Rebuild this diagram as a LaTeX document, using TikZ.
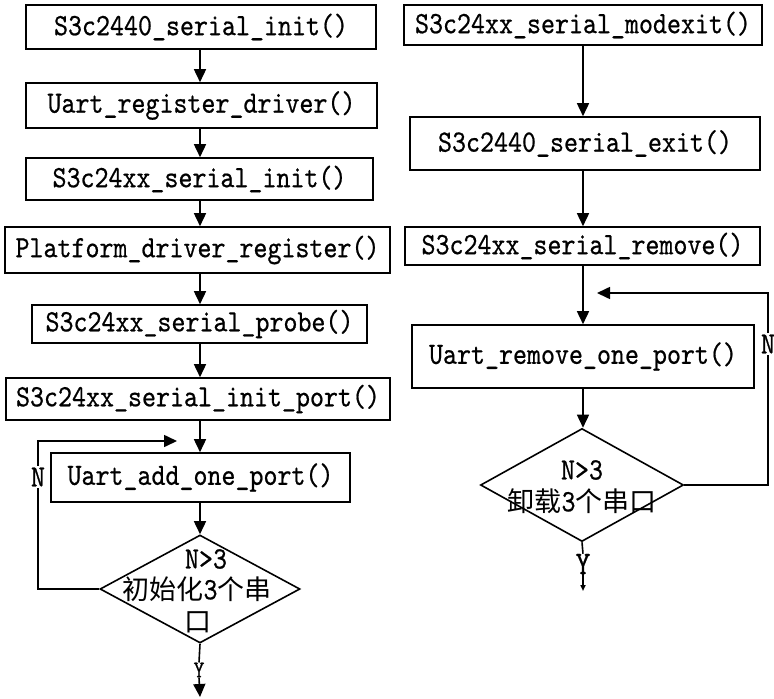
\documentclass[tikz,border=0pt]{standalone}
\usepackage{fontspec}
\setmonofont[FakeStretch=0.86,FakeBold=0.6]{lmmono10-regular.otf}
\newfontfamily\cjk{Noto Sans CJK SC}
\usetikzlibrary{arrows.meta,shapes.geometric}

\tikzset{
  box/.style={draw, line width=1.6pt, inner sep=0pt, font=\ttfamily\fontsize{31}{33}\selectfont},
  dia/.style={draw, diamond, line width=1.6pt, inner sep=0pt},
  lbl/.style={inner sep=0pt, font=\ttfamily\fontsize{31}{33}\selectfont},
  zh/.style={inner sep=0pt, font=\cjk\fontsize{27}{30}\selectfont},
  conn/.style={line width=1.6pt},
  arr/.style={conn, -{Triangle[length=13pt,width=12pt]}},
  arrsmall/.style={conn, -{Triangle[length=6pt,width=5pt]}},
}

\begin{document}
\begin{tikzpicture}[x=1pt,y=-1pt]
\useasboundingbox (0,0) rectangle (774,699);

% spine positions of the two columns
\coordinate (L) at (200,0);
\coordinate (R) at (583,0);

% ---- init sequence (left column) ----
\node[box, minimum width=350pt, minimum height=44pt] (B1) at (201,27)    {S3c2440\_serial\_init()};
\node[box, minimum width=351pt, minimum height=45pt] (B2) at (201.5,105.5) {Uart\_register\_driver()};
\node[box, minimum width=347pt, minimum height=42pt] (B3) at (199.5,179) {S3c24xx\_serial\_init()};
\node[box, minimum width=385pt, minimum height=46pt] (B4) at (197.5,250) {Platform\_driver\_register()};
\node[box, minimum width=335pt, minimum height=38pt] (B5) at (199.5,324) {S3c24xx\_serial\_probe()};
\node[box, minimum width=384pt, minimum height=42pt] (B6) at (198,399)   {S3c24xx\_serial\_init\_port()};
\node[box, minimum width=299pt, minimum height=49pt] (B7) at (200.5,477.5) {Uart\_add\_one\_port()};
\node[dia, minimum width=200pt, minimum height=108pt] (D1) at (200,589) {};
\node[lbl] (T1a) at (206,559) {N>3};
\node[zh]  (T1b) at (197,589) {初始化{\ttfamily\fontsize{31}{33}\selectfont 3}个串};
\node[zh]  (T1c) at (198,622) {口};
\node[inner sep=0pt, font=\ttfamily\fontsize{24}{26}\selectfont] (YL) at (199,670) {Y};
\coordinate (YLend) at (200,697);

\foreach \a/\b in {B1/B2,B2/B3,B3/B4,B4/B5,B5/B6,B6/B7,B7/D1}
  \draw[arr] (\a.south -| L) -- (\b.north -| L);
\draw[conn] (D1.south) -- (YL.north);
\draw[arr] (YL.south) -- (YLend);

% retry loop of the left column
\coordinate (LoopL) at (38,441);
\coordinate (LoopLend) at (177,441);
\draw[arr] (D1.west) -| (LoopL) -- (LoopLend);
\node[lbl, fill=white, inner ysep=2pt] (NL) at (38,477) {N};

% ---- exit sequence (right column) ----
\node[box, minimum width=358pt, minimum height=40pt] (R1) at (583,25)    {S3c24xx\_serial\_modexit()};
\node[box, minimum width=350pt, minimum height=53pt] (R2) at (585,143.5) {S3c2440\_serial\_exit()};
\node[box, minimum width=355pt, minimum height=38pt] (R3) at (582.5,246) {S3c24xx\_serial\_remove()};
\node[box, minimum width=342pt, minimum height=63pt] (R4) at (583,356.5) {Uart\_remove\_one\_port()};
\node[dia, minimum width=203pt, minimum height=113pt] (D2) at (582,485) {};
\node[lbl] (T2a) at (582,470) {N>3};
\node[zh]  (T2b) at (582,501) {卸载{\ttfamily\fontsize{31}{33}\selectfont 3}个串口};
\node[inner sep=0pt, font=\ttfamily\fontsize{33}{35}\selectfont] (YR) at (583,564) {Y};
\coordinate (YRend) at (583,591);

\foreach \a/\b in {R1/R2,R2/R3,R3/R4,R4/D2}
  \draw[arr] (\a.south -| R) -- (\b.north -| R);
\draw[conn] (D2.south) -- (YR.north);
\draw[arrsmall] (YR.south) -- (YRend);

% retry loop of the right column
\coordinate (LoopR) at (768,293);
\coordinate (LoopRend) at (597,293);
\draw[arr] (D2.east) -| (LoopR) -- (LoopRend);
\node[lbl, fill=white, inner ysep=2pt] (NR) at (768,344) {N};
\end{tikzpicture}
\end{document}
